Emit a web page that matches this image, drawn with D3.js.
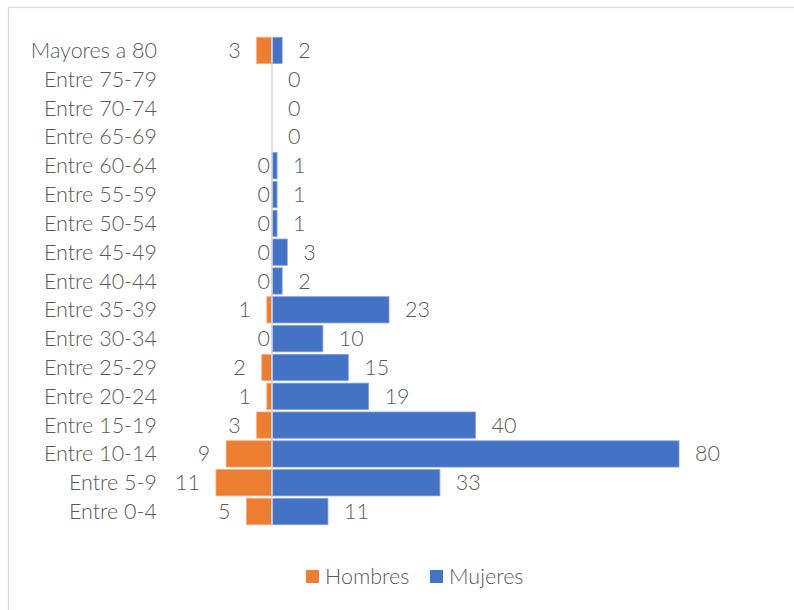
<!DOCTYPE html>
<html>
<head>
<meta charset="utf-8">
<script src="https://cdn.jsdelivr.net/npm/d3@7"></script>
<style>
  html, body { margin: 0; padding: 0; background: #fff; }
  svg { display: block; }
  text { font-family: "Lato", "Open Sans", sans-serif; font-weight: 300; fill: #595959; }
</style>
</head>
<body>
<svg id="chart" width="794" height="610"></svg>
<script>
const categories = ["Mayores a 80","Entre 75-79","Entre 70-74","Entre 65-69","Entre 60-64","Entre 55-59","Entre 50-54","Entre 45-49","Entre 40-44","Entre 35-39","Entre 30-34","Entre 25-29","Entre 20-24","Entre 15-19","Entre 10-14","Entre 5-9","Entre 0-4"];
const hombres = [3,null,null,null,0,0,0,0,0,1,0,2,1,3,9,11,5];
const mujeres = [2,0,0,0,1,1,1,3,2,23,10,15,19,40,80,33,11];
const seriesNames = ["Hombres","Mujeres"];
const seriesColors = ["#ED7D31","#4472C4"];

const svg = d3.select("#chart");

// frame
svg.append("rect").attr("x",8.5).attr("y",7.5).attr("width",800).attr("height",620)
  .attr("fill","none").attr("stroke","#d9d9d9").attr("stroke-width",1.2);

const x = d3.scaleLinear().domain([-11, 80]).range([216, 679]);
const y = d3.scaleBand().domain(categories).range([36, 526]).paddingInner(0.09).paddingOuter(0.045);

const fs = 21.5;

// category labels
svg.append("g").selectAll("text").data(categories).join("text")
  .attr("x", 157).attr("y", d => y(d) + y.bandwidth()/2)
  .attr("dy","0.35em").attr("text-anchor","end")
  .style("font-size", fs + "px").text(d => d);

const hData = categories.map((c,i) => ({c, v: hombres[i]}));
const mData = categories.map((c,i) => ({c, v: mujeres[i]}));

svg.append("g").selectAll("rect").data(hData.filter(d => d.v)).join("rect")
  .attr("x", d => x(-d.v)).attr("y", d => y(d.c))
  .attr("width", d => x(0) - x(-d.v)).attr("height", y.bandwidth())
  .attr("fill", seriesColors[0]).attr("stroke","#f4a777").attr("stroke-width",0.8);

svg.append("g").selectAll("rect").data(mData.filter(d => d.v)).join("rect")
  .attr("x", x(0)).attr("y", d => y(d.c))
  .attr("width", d => x(d.v) - x(0)).attr("height", y.bandwidth())
  .attr("fill", seriesColors[1]).attr("stroke","#7f9fd8").attr("stroke-width",0.8);

// axis line
svg.append("line").attr("x1", x(0)).attr("x2", x(0)).attr("y1", 37).attr("y2", 526)
  .attr("stroke","#d9d9d9").attr("stroke-width",1.6);

// labels
svg.append("g").selectAll("text").data(hData.filter(d => d.v !== null)).join("text")
  .attr("x", d => d.v > 0 ? x(-d.v) - 16 : x(0) - 2)
  .attr("y", d => y(d.c) + y.bandwidth()/2).attr("dy","0.35em")
  .attr("text-anchor","end").style("font-size", fs + "px").text(d => d.v);

svg.append("g").selectAll("text").data(mData).join("text")
  .attr("x", d => x(d.v) + 16)
  .attr("y", d => y(d.c) + y.bandwidth()/2).attr("dy","0.35em")
  .attr("text-anchor","start").style("font-size", fs + "px").text(d => d.v);

// legend
const legend = svg.append("g");
const lx = [306, 430];
seriesNames.forEach((n,i) => {
  legend.append("rect").attr("x", lx[i]).attr("y", 570).attr("width", 13).attr("height", 13).attr("fill", seriesColors[i]);
  legend.append("text").attr("x", lx[i] + 19).attr("y", 584).style("font-size", fs + "px").text(n);
});
</script>
</body>
</html>
